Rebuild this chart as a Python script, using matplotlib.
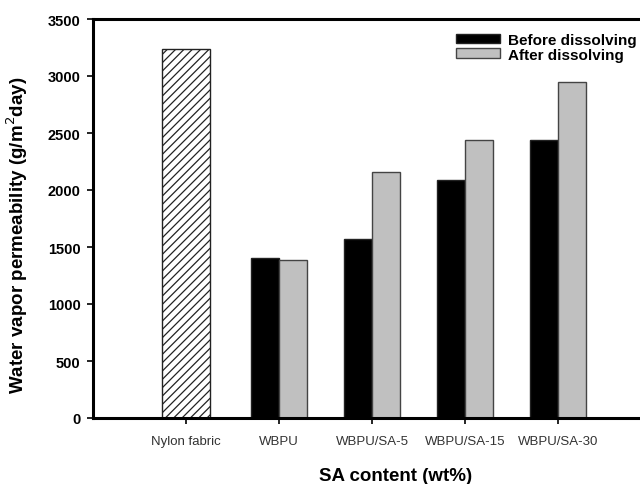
import matplotlib
matplotlib.use("Agg")
import matplotlib.pyplot as plt
import numpy as np

plt.rcParams['font.family'] = ['Liberation Sans', 'DejaVu Sans']
plt.rcParams['hatch.linewidth'] = 0.9

categories = ["Nylon fabric", "WBPU", "WBPU/SA-5", "WBPU/SA-15", "WBPU/SA-30"]
nylon_value = [3237]
before_values = [1404, 1574, 2084, 2440]
after_values = [1390, 2155, 2440, 2946]
yticks = [0, 500, 1000, 1500, 2000, 2500, 3000, 3500]

fig = plt.figure(figsize=(6.4, 4.85), dpi=100)
ax = fig.add_axes([93/640, (485-419)/485, 558/640, (419-20)/485])

x = np.arange(1, len(categories) + 1)
w = 0.30
ax.bar(x[:1], nylon_value, width=0.52, color='white', edgecolor='#222222',
       hatch='////', linewidth=1.0)
ax.bar(x[1:] - w/2, before_values, width=w, color='black', edgecolor='#222222',
       linewidth=1.0, label='Before dissolving')
ax.bar(x[1:] + w/2, after_values, width=w, color='#c0c0c0', edgecolor='#444444',
       linewidth=1.0, label='After dissolving')

ax.set_xlim(0, 6)
ax.set_ylim(0, 3500)
ax.set_xticks(x)
ax.set_xticklabels(categories, fontsize=9.5, color='#333333')
ax.set_yticks(yticks)
ax.set_yticklabels([str(v) for v in yticks], fontsize=10.5, fontweight='bold')
ax.tick_params(axis='both', direction='out', length=4, width=1.2)
ax.tick_params(axis='x', pad=8)
ax.tick_params(axis='y', pad=5)

for s in ['left', 'bottom', 'top']:
    ax.spines[s].set_linewidth(2.2)
ax.spines['right'].set_visible(False)

ax.set_ylabel('Water vapor permeability (g/m$^2$day)', fontsize=13.5,
              fontweight='bold')
ax.yaxis.set_label_coords((30-93)/558, (419-235)/399)
ax.set_xlabel('SA content (wt%)', fontsize=13.5, fontweight='bold')
ax.xaxis.set_label_coords((396-93)/558, -(468-419)/399)

leg = ax.legend(loc='upper left', bbox_to_anchor=((456-93)/558, 0.965),
                frameon=False, fontsize=11, handlelength=2.9, handleheight=0.6,
                handletextpad=0.5, labelspacing=0.05, borderaxespad=0,
                borderpad=0)
for t in leg.get_texts():
    t.set_fontweight('bold')

fig.savefig('out.png', dpi=100)
